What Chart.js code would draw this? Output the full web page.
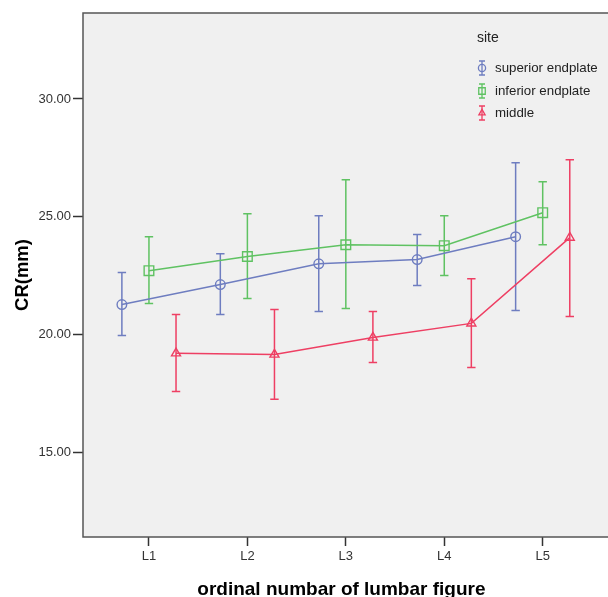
<!DOCTYPE html>
<html>
<head>
<meta charset="utf-8">
<script src="https://cdn.jsdelivr.net/npm/chart.js@4/dist/chart.umd.min.js"></script>
<style>
  html, body { margin: 0; padding: 0; background: #fff; }
  #wrap { width: 608px; height: 597px; }
</style>
</head>
<body>
<div id="wrap"><canvas id="crChart" width="608" height="597"></canvas></div>
<script>
// --- data ---
const categories = ["L1", "L2", "L3", "L4", "L5"];
const seriesNames = ["superior endplate", "inferior endplate", "middle"];

const superiorMean = [21.27, 22.12, 23.00, 23.18, 24.15];
const superiorLow  = [19.96, 20.85, 20.97, 22.08, 21.02];
const superiorHigh = [22.63, 23.43, 25.04, 24.24, 27.29];

const inferiorMean = [22.71, 23.31, 23.81, 23.77, 25.17];
const inferiorLow  = [21.31, 21.53, 21.10, 22.50, 23.81];
const inferiorHigh = [24.15, 25.13, 26.57, 25.04, 26.48];

const middleMean = [19.20, 19.15, 19.87, 20.47, 24.11];
const middleLow  = [17.58, 17.25, 18.81, 18.60, 20.76];
const middleHigh = [20.85, 21.06, 20.97, 22.37, 27.42];

const yTicks = [15, 20, 25, 30];

// dodge each series inside its category
const dodge = [-0.275, 0, 0.275];
const colors = ["#6e7dc0", "#5fc262", "#ee3f63"];
const styles = ["circle", "rect", "triangle"];
const radii = [4.8, 6.8, 5.2];

function toPoints(values, k) {
    return values.map((v, i) => ({ x: i + 1 + dodge[k], y: v }));
}

const means = [superiorMean, inferiorMean, middleMean];
const lows = [superiorLow, inferiorLow, middleLow];
const highs = [superiorHigh, inferiorHigh, middleHigh];

const datasets = means.map((m, k) => ({
    label: seriesNames[k],
    data: toPoints(m, k),
    errLow: lows[k],
    errHigh: highs[k],
    borderColor: colors[k],
    borderWidth: 1.5,
    pointStyle: styles[k],
    pointRadius: radii[k],
    pointHoverRadius: radii[k],
    pointBorderColor: colors[k],
    pointBackgroundColor: "rgba(0,0,0,0)",
    pointBorderWidth: 1.4,
    showLine: true,
    tension: 0
}));

// grey plot background + frame, carried on to the canvas edge (plot is cut off on the right)
const frame = {
    id: "frame",
    beforeDraw(chart) {
        const a = chart.chartArea;
        const c = chart.ctx;
        c.save();
        c.fillStyle = "#f0f0f0";
        c.fillRect(a.left, a.top, chart.width - a.left, a.bottom - a.top);
        c.restore();
    },
    afterDraw(chart) {
        const a = chart.chartArea;
        const c = chart.ctx;
        c.save();
        c.strokeStyle = "#555";
        c.lineWidth = 1.5;
        c.beginPath();
        c.moveTo(chart.width, a.top);
        c.lineTo(a.left, a.top);
        c.lineTo(a.left, a.bottom);
        c.lineTo(chart.width, a.bottom);
        c.stroke();
        c.restore();
    }
};

// vertical error bars with caps
const errorBars = {
    id: "errorBars",
    beforeDatasetsDraw(chart) {
        const c = chart.ctx;
        const ys = chart.scales.y;
        chart.data.datasets.forEach((ds, k) => {
            const meta = chart.getDatasetMeta(k);
            c.save();
            c.strokeStyle = ds.borderColor;
            c.lineWidth = 1.5;
            meta.data.forEach((pt, i) => {
                const x = pt.x;
                const y1 = ys.getPixelForValue(ds.errHigh[i]);
                const y2 = ys.getPixelForValue(ds.errLow[i]);
                c.beginPath();
                c.moveTo(x, y1); c.lineTo(x, y2);
                c.moveTo(x - 4.2, y1); c.lineTo(x + 4.2, y1);
                c.moveTo(x - 4.2, y2); c.lineTo(x + 4.2, y2);
                c.stroke();
            });
            c.restore();
        });
    }
};

// SPSS-like legend inside the plot
const siteLegend = {
    id: "siteLegend",
    afterDatasetsDraw(chart) {
        const c = chart.ctx;
        c.save();
        c.fillStyle = "#222";
        c.textBaseline = "middle";
        c.font = "14px Arial, 'Liberation Sans', sans-serif";
        c.fillText("site", 477, 38);
        c.font = "13.3px Arial, 'Liberation Sans', sans-serif";
        const rows = [68, 91, 113];
        chart.data.datasets.forEach((ds, k) => {
            const x = 482, y = rows[k];
            c.strokeStyle = ds.borderColor;
            c.lineWidth = 1.3;
            c.beginPath();
            c.moveTo(x, y - 7); c.lineTo(x, y + 7);
            c.moveTo(x - 3, y - 7); c.lineTo(x + 3, y - 7);
            c.moveTo(x - 3, y + 7); c.lineTo(x + 3, y + 7);
            c.stroke();
            c.fillStyle = "rgba(0,0,0,0)";
            Chart.helpers.drawPoint(c, {
                pointStyle: ds.pointStyle,
                radius: k === 1 ? 4.6 : 3.6,
                rotation: 0,
                borderWidth: 1.3
            }, x, y);
            c.fillStyle = "#222";
            c.fillText(ds.label, 495, y);
        });
        c.restore();
    }
};

const ctx = document.getElementById("crChart");
new Chart(ctx, {
    type: "scatter",
    data: { datasets: datasets },
    plugins: [frame, errorBars, siteLegend],
    options: {
        responsive: false,
        animation: false,
        layout: { padding: { top: 13, right: 0, left: 0, bottom: 0 } },
        plugins: { legend: { display: false }, tooltip: { enabled: false } },
        scales: {
            x: {
                type: "linear",
                min: 0.33,
                max: 5.58,
                afterFit(scale) {
                    scale.height = 60;
                },
                afterBuildTicks(scale) {
                    scale.ticks = categories.map((_, i) => ({ value: i + 1 }));
                },
                ticks: {
                    callback: (v) => categories[v - 1],
                    color: "#333",
                    font: { size: 13, family: "Arial, 'Liberation Sans', sans-serif" },
                    padding: 3,
                    maxRotation: 0
                },
                grid: {
                    drawOnChartArea: false,
                    drawTicks: true,
                    tickLength: 9,
                    tickColor: "#333",
                    tickWidth: 1.5
                },
                border: { display: false },
                title: {
                    display: true,
                    text: "ordinal numbar of lumbar figure",
                    color: "#000",
                    font: { size: 19, weight: "bold", family: "Arial, 'Liberation Sans', sans-serif", lineHeight: 0.8 },
                    padding: { top: 0, bottom: 0 }
                }
            },
            y: {
                min: 11.4,
                max: 33.65,
                afterFit(scale) {
                    scale.width = 83;
                },
                afterBuildTicks(scale) {
                    scale.ticks = yTicks.map((v) => ({ value: v }));
                },
                ticks: {
                    callback: (v) => Number(v).toFixed(2),
                    color: "#333",
                    font: { size: 13, family: "Arial, 'Liberation Sans', sans-serif" },
                    padding: 2
                },
                grid: {
                    drawOnChartArea: false,
                    drawTicks: true,
                    tickLength: 10,
                    tickColor: "#333",
                    tickWidth: 1.5
                },
                border: { display: false },
                title: {
                    display: true,
                    text: "CR(mm)",
                    color: "#000",
                    font: { size: 18.5, weight: "bold", family: "Arial, 'Liberation Sans', sans-serif", lineHeight: 1.2 },
                    padding: { top: 12, bottom: 0 }
                }
            }
        }
    }
});
</script>
</body>
</html>
